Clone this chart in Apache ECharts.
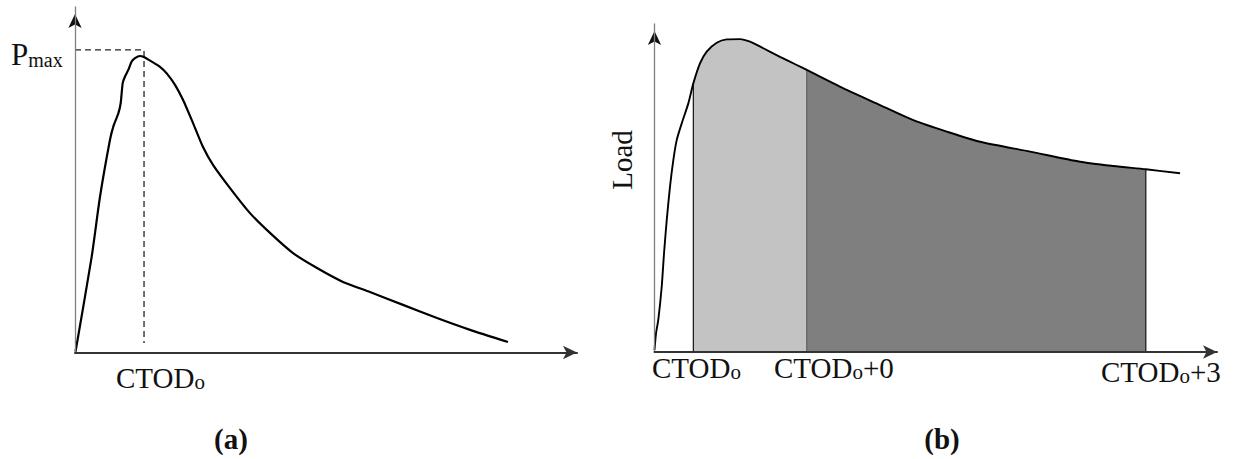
<!DOCTYPE html>
<html>
<head>
<meta charset="utf-8">
<script src="https://cdn.jsdelivr.net/npm/echarts@6/dist/echarts.min.js"></script>
<style>
html,body{margin:0;padding:0;background:#fff;}
#chart{width:1235px;height:459px;}
</style>
</head>
<body>
<div id="chart"></div>
<script>
// ---- Panel (a): load vs CTOD curve (arbitrary units) ----
const strainA = [0.1, 3.33, 4.98, 6.97, 7.63, 8.63, 9.10, 9.50, 9.96, 10.62, 11.29, 11.95, 12.95, 13.61, 15.28, 16.93, 18.27, 19.92, 21.51, 23.51, 25.50, 27.49, 30.88, 34.86, 38.84, 43.43, 48.21, 53.39, 58.76, 65.34, 72.11, 78.69, 86.25];
const loadA   = [0.2, 27.6, 44.8, 61.2, 65.0, 68.8, 71.7, 77.5, 79.4, 81.3, 83.7, 84.7, 85.3, 85.1, 83.7, 82.2, 80.3, 77.0, 72.7, 66.0, 59.1, 54.0, 47.3, 40.1, 34.4, 28.6, 24.3, 20.3, 17.4, 13.7, 9.9, 6.5, 3.0];
const pmaxGuide = { strain: 13.75, load: 87.05, bottom: 2.73 };

// ---- Panel (b): load vs CTOD curve with shaded energy areas ----
const strainB = [0, 0.27, 0.67, 1.28, 1.69, 2.17, 2.75, 3.34, 3.94, 4.83, 6.0, 6.89, 8.07, 9.26, 11.04, 12.81, 15.17, 16.95, 19.31, 22.27, 25.23, 27.01, 34.11, 40.02, 45.93, 51.85, 57.76, 66.64, 75.51, 81.42, 87.17, 93.24];
const loadB   = [0.6, 5.7, 9.8, 19.9, 30.1, 40.2, 50.4, 58.5, 64.6, 69.7, 75.8, 81.9, 88.0, 91.6, 94.3, 95.3, 95.4, 94.6, 92.6, 90.0, 87.5, 86.0, 79.9, 75.3, 70.7, 67.2, 64.1, 61.1, 58.0, 56.7, 55.7, 54.5];
const ctodMarks = [6.89, 27.01, 87.17];   // CTODo, CTODo+0, CTODo+3

// ---- Axis extents (same units as data) ----
const axisMaxA = { x: 100, y: 99.4 };
const axisMaxB = { x: 99.8, y: 100 };

// ---- Text labels ----
const labelsA = { pmax: ['P', 'max'], ctod: ['CTOD', 'o', ''], title: '(a)' };
const labelsB = { ctod0: ['CTOD', 'o', ''], ctod1: ['CTOD', 'o', '+0'], ctod3: ['CTOD', 'o', '+3'], yName: 'Load', title: '(b)' };

const zip = (xs, ys) => xs.map((x, i) => [x, ys[i]]);
const ptsA = zip(strainA, loadA);
const ptsB = zip(strainB, loadB);
const loadAt = x => loadB[strainB.indexOf(x)];
const between = (lo, hi) => ptsB.filter(p => p[0] >= lo - 1e-9 && p[0] <= hi + 1e-9);

const serif = '"Liberation Serif", "Times New Roman", serif';
const ink = '#111';

function xAxisCfg(grid, max) {
  return {
    gridIndex: grid, type: 'value', min: 0, max: max,
    axisLine: { show: true, onZero: false, symbol: ['none', 'arrow'], symbolSize: [10, 14],
      lineStyle: { color: '#333', width: 2 } },
    axisTick: { show: false }, axisLabel: { show: false }, splitLine: { show: false }, z: 5
  };
}
function yAxisCfg(grid, max) {
  return {
    gridIndex: grid, type: 'value', min: 0, max: max,
    axisLine: { show: true, onZero: false, lineStyle: { color: '#808080', width: 1.3 } },
    axisTick: { show: false }, axisLabel: { show: false }, splitLine: { show: false }, z: 5
  };
}
function yArrow(max) {
  return {
    silent: true, symbol: 'arrow', symbolSize: [10, 14], symbolOffset: [0, 7],
    itemStyle: { color: '#111' }, label: { show: false },
    data: [{ coord: [0, max] }]
  };
}

const richBase = {
  m: { fontFamily: serif, fontSize: 29, color: ink, verticalAlign: 'bottom', lineHeight: 30 },
  s: { fontFamily: serif, fontSize: 21, color: ink, verticalAlign: 'bottom', lineHeight: 26 }
};
function ctodText(parts) {
  return '{m|' + parts[0] + '}{s|' + parts[1] + '}' + (parts[2] ? '{m|' + parts[2] + '}' : '');
}
function textEl(x, y, text, extra) {
  return {
    type: 'text', x: x, y: y, silent: true,
    style: Object.assign({ text: text, rich: richBase, verticalAlign: 'middle', align: 'left',
      fill: ink, font: '29px ' + serif }, extra || {})
  };
}

const chart = echarts.init(document.getElementById('chart'), null, { renderer: 'svg' });
chart.setOption({
  animation: false,
  backgroundColor: '#fff',
  grid: [
    { left: 75, top: 7, width: 502, height: 345.5 },
    { left: 654.5, top: 24, width: 562.5, height: 328 }
  ],
  xAxis: [ xAxisCfg(0, axisMaxA.x), xAxisCfg(1, axisMaxB.x) ],
  yAxis: [ yAxisCfg(0, axisMaxA.y), yAxisCfg(1, axisMaxB.y) ],
  series: [
    { type: 'line', xAxisIndex: 0, yAxisIndex: 0, data: ptsA, showSymbol: false, smooth: 0.2,
      lineStyle: { color: '#000', width: 2.2 }, z: 4, markPoint: yArrow(axisMaxA.y) },
    { type: 'line', xAxisIndex: 0, yAxisIndex: 0, showSymbol: false,
      data: [[0, pmaxGuide.load], [pmaxGuide.strain, pmaxGuide.load], [pmaxGuide.strain, pmaxGuide.bottom]],
      lineStyle: { color: '#222', width: 1.3, type: [6, 4] }, z: 3 },
    { type: 'line', xAxisIndex: 1, yAxisIndex: 1, data: between(ctodMarks[0], ctodMarks[1]), showSymbol: false,
      smooth: 0.25, lineStyle: { width: 0 }, areaStyle: { color: '#c3c3c3', opacity: 1, origin: 'start' }, z: 1 },
    { type: 'line', xAxisIndex: 1, yAxisIndex: 1, data: between(ctodMarks[1], ctodMarks[2]), showSymbol: false,
      smooth: 0.25, lineStyle: { width: 0 }, areaStyle: { color: '#7f7f7f', opacity: 1, origin: 'start' }, z: 1 },
    { type: 'line', xAxisIndex: 1, yAxisIndex: 1, showSymbol: false,
      data: [[ctodMarks[0], 0], [ctodMarks[0], loadAt(ctodMarks[0])]], lineStyle: { color: '#111', width: 1.2 }, z: 2 },
    { type: 'line', xAxisIndex: 1, yAxisIndex: 1, showSymbol: false,
      data: [[ctodMarks[1], 0], [ctodMarks[1], loadAt(ctodMarks[1])]], lineStyle: { color: '#606060', width: 1.2 }, z: 2 },
    { type: 'line', xAxisIndex: 1, yAxisIndex: 1, showSymbol: false,
      data: [[ctodMarks[2], 0], [ctodMarks[2], loadAt(ctodMarks[2])]], lineStyle: { color: '#111', width: 1.2 }, z: 2 },
    { type: 'line', xAxisIndex: 1, yAxisIndex: 1, data: ptsB, showSymbol: false, smooth: 0.25,
      lineStyle: { color: '#000', width: 1.9 }, z: 4, markPoint: yArrow(axisMaxB.y) }
  ],
  graphic: [
    textEl(11, 54, '{p|' + labelsA.pmax[0] + '}{q|' + labelsA.pmax[1] + '}', {
      rich: {
        p: { fontFamily: serif, fontSize: 31, color: ink, verticalAlign: 'bottom', lineHeight: 31 },
        q: { fontFamily: serif, fontSize: 20, color: ink, verticalAlign: 'bottom', lineHeight: 23 }
      }
    }),
    textEl(116, 377.5, ctodText(labelsA.ctod)),
    textEl(231, 439, labelsA.title, { align: 'center', font: 'bold 29px ' + serif }),
    textEl(652, 367.5, ctodText(labelsB.ctod0)),
    textEl(774, 367.5, ctodText(labelsB.ctod1)),
    textEl(1101, 371, ctodText(labelsB.ctod3)),
    textEl(942, 439, labelsB.title, { align: 'center', font: 'bold 29px ' + serif }),
    { type: 'text', x: 622, y: 160, rotation: Math.PI / 2, silent: true,
      style: { text: labelsB.yName, fill: ink, font: '29px ' + serif, align: 'center', verticalAlign: 'middle' } }
  ]
});
</script>
</body>
</html>
